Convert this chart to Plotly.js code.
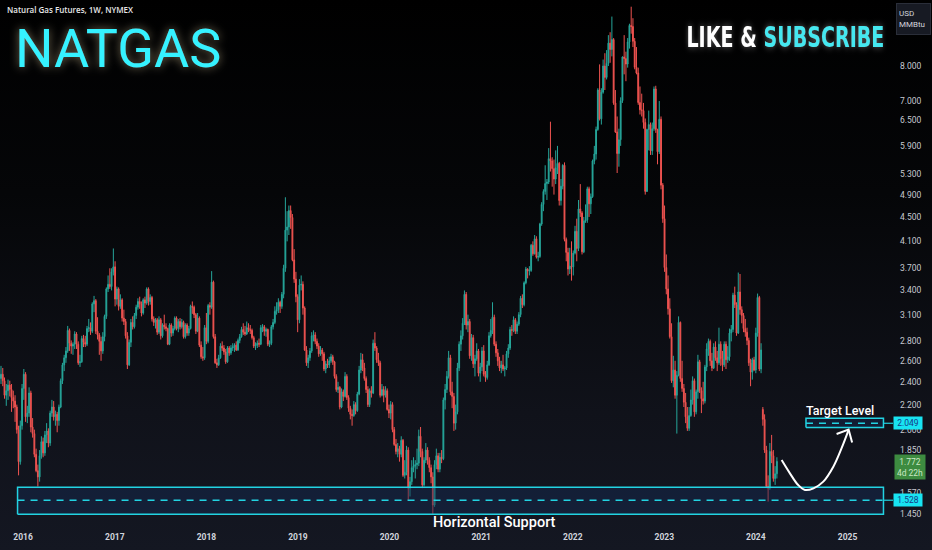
<!DOCTYPE html>
<html><head><meta charset="utf-8">
<script src="https://cdn.plot.ly/plotly-3.0.1.min.js"></script>
<style>
html,body{margin:0;padding:0;background:#000;}
#chart{width:932px;height:550px;background:linear-gradient(to bottom,#000000 0%,#050608 35%,#10121a 75%,#141722 100%);}
</style></head><body>
<svg width="0" height="0" style="position:absolute">
 <defs>
  <filter id="glowWarm" x="-30%" y="-60%" width="160%" height="220%">
   <feGaussianBlur in="SourceAlpha" stdDeviation="5" result="blur"/>
   <feFlood flood-color="#c9b98e" flood-opacity="0.6"/>
   <feComposite in2="blur" operator="in" result="glow"/>
   <feMerge><feMergeNode in="glow"/><feMergeNode in="SourceGraphic"/></feMerge>
  </filter>
  <filter id="glowWhite" x="-20%" y="-60%" width="140%" height="220%">
   <feGaussianBlur in="SourceAlpha" stdDeviation="3.5" result="blur"/>
   <feFlood flood-color="#ffffff" flood-opacity="0.35"/>
   <feComposite in2="blur" operator="in" result="glow"/>
   <feMerge><feMergeNode in="glow"/><feMergeNode in="SourceGraphic"/></feMerge>
  </filter>
 </defs>
</svg>
<div id="chart"></div>
<script>
const firstWeek = '2015-10-05';

const opens = [
2.43,2.47,2.41,2.28,2.32,2.37,2.33,2.26,2.23,2.18,2.00,1.77,2.03,
2.34,2.47,2.10,2.13,2.30,2.02,1.97,1.82,1.71,1.67,1.81,1.91,1.83,
1.96,1.99,1.90,2.13,2.18,2.10,2.12,2.07,2.18,2.41,2.56,2.63,2.70,
2.92,2.78,2.75,2.77,2.88,2.77,2.58,2.59,2.83,2.79,2.77,2.94,2.95,
2.91,3.23,3.27,2.91,2.87,2.80,2.70,2.85,3.08,3.42,3.48,3.45,3.65,
3.72,3.29,3.42,3.20,3.28,3.06,3.02,2.86,2.56,2.79,3.01,2.96,3.09,
3.19,3.26,3.23,3.12,3.28,3.24,3.42,3.26,3.31,3.05,3.01,3.04,2.90,
3.04,2.86,2.98,2.96,2.94,2.77,2.98,2.89,2.94,3.06,2.94,3.02,2.96,
3.01,2.85,2.98,2.89,2.94,3.20,3.19,3.10,2.91,3.06,2.76,2.64,2.63,
2.95,2.80,3.21,3.19,3.51,2.85,2.58,2.56,2.63,2.75,2.73,2.69,2.59,
2.73,2.68,2.73,2.74,2.76,2.71,2.81,2.85,2.93,2.90,2.88,2.95,2.93,
2.92,2.84,2.75,2.76,2.78,2.77,2.95,2.96,2.91,2.93,2.77,2.78,2.96,
3.01,3.14,3.16,3.25,3.20,3.35,3.70,4.28,4.33,4.61,4.49,3.82,3.55,
3.32,
3.04,3.47,3.48,3.18,2.71,2.58,2.63,2.70,2.86,2.87,2.80,2.75,2.67,
2.71,2.67,2.52,2.57,2.56,2.60,2.64,2.59,2.45,2.33,2.35,2.18,2.31,
2.27,2.45,2.26,2.17,2.12,2.11,2.20,2.15,2.29,2.51,2.61,2.53,2.43,
2.33,2.20,2.32,2.30,2.78,2.73,2.61,2.58,2.28,2.33,2.28,2.32,2.16,
2.13,2.20,2.00,1.89,1.84,1.86,1.82,1.92,1.68,1.70,1.85,1.60,1.64,
1.73,1.74,1.75,1.76,1.95,1.84,1.62,1.78,1.85,1.78,1.73,1.67,1.50,
1.75,1.81,1.72,1.80,1.79,2.24,2.33,2.45,2.63,2.31,2.27,2.05,2.14,
2.53,2.77,2.86,3.00,3.35,2.98,3.02,2.65,2.84,2.57,2.62,2.70,2.48,
2.54,2.70,2.47,2.44,2.56,2.86,2.92,3.07,2.77,2.68,2.60,2.53,2.56,
2.52,2.53,2.67,2.73,2.93,2.92,3.04,2.91,2.99,3.10,3.30,3.22,3.50,
3.69,3.66,3.67,4.04,3.91,4.14,3.86,3.87,4.38,4.72,4.96,5.11,5.14,
5.62,5.57,5.41,5.20,5.43,5.52,4.79,5.06,5.48,4.13,3.93,3.69,3.73,
3.72,3.92,4.26,3.99,4.64,4.57,3.94,4.43,4.45,5.01,4.73,4.86,5.57,
5.72,6.28,7.30,6.54,7.24,8.00,7.66,8.08,8.73,8.52,8.85,6.95,6.22,
5.73,6.04,7.01,8.28,8.23,8.06,8.77,9.34,9.30,8.79,7.96,7.79,6.96,
6.77,6.75,6.45,4.96,6.28,6.40,5.79,6.30,7.33,6.28,5.77,6.53,5.08,
4.47,3.71,3.42,3.17,2.85,2.41,2.51,2.28,2.46,3.01,2.43,2.34,2.22,
2.10,2.01,2.11,2.24,2.41,2.14,2.31,2.59,2.32,2.25,2.23,2.54,2.72,
2.80,2.60,2.53,2.74,2.63,2.58,2.77,2.62,2.56,2.77,2.61,2.64,2.89,
2.93,3.34,3.22,2.89,3.38,3.16,3.09,2.94,2.90,2.81,2.58,2.49,2.61,
2.51,2.89,3.31,2.52,2.16,2.08,1.85,1.61,1.60,1.84,1.81,1.66,1.69
];

const highs = [
2.55,2.53,2.44,2.38,2.42,2.41,2.38,2.32,2.28,2.20,2.03,2.07,2.38,
2.52,2.49,2.19,2.35,2.32,2.09,2.00,1.86,1.75,1.85,1.95,1.94,1.99,
2.05,2.01,2.15,2.24,2.23,2.15,2.14,2.20,2.43,2.58,2.66,2.74,2.97,
2.94,2.81,2.79,2.91,2.90,2.80,2.66,2.86,2.87,2.86,2.97,3.05,3.01,
3.25,3.33,3.29,3.07,2.89,2.85,2.90,3.10,3.44,3.60,3.70,3.70,3.99,
3.80,3.45,3.44,3.35,3.30,3.16,3.05,2.90,2.82,3.05,3.08,3.12,3.22,
3.30,3.32,3.26,3.30,3.32,3.44,3.44,3.35,3.33,3.08,3.06,3.06,3.08,
3.06,3.00,3.10,3.00,2.95,3.00,3.00,2.97,3.08,3.08,3.05,3.06,3.05,
3.03,3.00,3.00,2.97,3.22,3.26,3.21,3.12,3.12,3.08,2.80,2.74,2.98,
3.12,3.23,3.25,3.66,3.53,2.88,2.62,2.66,2.78,2.80,2.76,2.72,2.75,
2.75,2.76,2.78,2.78,2.80,2.83,2.88,2.96,3.00,2.97,3.02,3.00,2.98,
2.94,2.86,2.79,2.81,2.83,2.98,2.99,2.98,2.95,2.94,2.81,2.98,3.05,
3.20,3.25,3.30,3.27,3.38,3.75,4.85,4.60,4.70,4.70,4.55,3.98,3.65,
3.35,
3.55,3.60,3.52,3.20,2.75,2.66,2.73,2.90,2.92,2.90,2.83,2.78,2.75,
2.73,2.69,2.60,2.62,2.64,2.67,2.66,2.60,2.47,2.40,2.36,2.34,2.33,
2.49,2.47,2.28,2.19,2.16,2.23,2.22,2.31,2.55,2.68,2.67,2.58,2.45,
2.36,2.34,2.36,2.82,2.90,2.75,2.68,2.60,2.38,2.36,2.36,2.34,2.20,
2.23,2.22,2.02,1.93,1.90,1.88,1.95,1.93,1.78,1.88,1.87,1.67,1.78,
1.80,1.78,1.86,2.00,2.02,1.86,1.80,1.90,1.87,1.80,1.75,1.70,1.78,
1.86,1.83,1.83,1.85,2.26,2.38,2.50,2.70,2.66,2.40,2.30,2.20,2.58,
2.80,2.92,3.06,3.40,3.38,3.10,3.05,2.88,2.87,2.66,2.78,2.72,2.58,
2.74,2.76,2.50,2.60,2.90,3.05,3.25,3.10,2.80,2.72,2.64,2.60,2.66,
2.55,2.70,2.77,2.96,2.98,3.08,3.06,3.02,3.13,3.33,3.35,3.52,3.72,
3.70,3.73,4.06,4.10,4.20,4.18,3.94,4.40,4.76,5.00,5.48,5.20,5.85,
6.47,5.65,5.60,5.80,5.90,5.55,5.20,5.50,5.54,4.16,4.00,4.00,4.10,
3.96,4.35,4.47,4.80,5.10,4.60,4.50,4.72,5.05,5.05,4.92,5.60,5.90,
6.35,7.35,8.05,7.35,8.20,8.40,8.50,9.00,9.10,9.66,8.90,7.30,6.60,
6.30,7.10,8.30,9.00,8.45,8.90,9.40,10.03,9.60,8.90,8.60,7.95,7.40,
7.20,6.95,6.55,6.30,6.75,6.45,6.45,7.40,7.42,6.30,7.00,6.60,5.12,
4.70,3.90,3.60,3.30,3.00,2.65,2.60,2.50,3.08,3.02,2.60,2.38,2.30,
2.18,2.18,2.33,2.45,2.43,2.33,2.66,2.61,2.35,2.40,2.56,2.78,2.83,
2.82,2.68,2.78,2.80,2.70,2.95,2.80,2.70,2.80,2.80,2.75,2.94,2.98,
3.37,3.45,3.25,3.64,3.62,3.20,3.12,3.05,2.95,2.84,2.62,2.63,2.64,
2.95,3.36,3.33,2.78,2.18,2.12,1.88,1.68,1.90,1.96,1.85,1.74,1.80
];

const lows = [
2.38,2.36,2.25,2.19,2.24,2.27,2.14,2.17,2.06,1.97,1.68,1.75,2.00,
2.24,2.06,2.05,2.10,1.98,1.94,1.80,1.70,1.61,1.64,1.79,1.80,1.81,
1.90,1.87,1.88,2.10,2.07,2.03,1.98,2.03,2.17,2.38,2.50,2.58,2.68,
2.70,2.67,2.66,2.72,2.72,2.56,2.54,2.58,2.74,2.74,2.75,2.90,2.87,
2.89,3.13,2.88,2.82,2.66,2.60,2.67,2.80,3.05,3.38,3.42,3.40,3.60,
3.20,3.22,3.15,3.17,3.02,2.98,2.83,2.52,2.55,2.74,2.93,2.94,3.05,
3.16,3.17,3.08,3.10,3.18,3.22,3.21,3.22,3.02,2.97,2.94,2.87,2.88,
2.82,2.84,2.93,2.91,2.76,2.76,2.85,2.86,2.92,2.92,2.90,2.93,2.94,
2.83,2.83,2.86,2.86,2.93,3.11,3.06,2.88,2.90,2.74,2.62,2.60,2.61,
2.77,2.78,3.10,3.17,2.83,2.57,2.53,2.55,2.62,2.70,2.66,2.57,2.58,
2.65,2.66,2.70,2.69,2.70,2.70,2.78,2.84,2.87,2.86,2.87,2.90,2.88,
2.82,2.73,2.71,2.73,2.74,2.76,2.90,2.86,2.85,2.75,2.74,2.76,2.93,
2.99,3.10,3.12,3.12,3.17,3.30,3.65,4.10,4.20,4.30,3.80,3.50,3.25,
2.90,
3.00,3.40,3.10,2.70,2.55,2.53,2.60,2.68,2.80,2.77,2.72,2.64,2.65,
2.60,2.50,2.48,2.53,2.53,2.58,2.56,2.43,2.31,2.30,2.16,2.17,2.23,
2.26,2.24,2.14,2.08,2.03,2.10,2.12,2.14,2.28,2.48,2.50,2.41,2.30,
2.18,2.18,2.26,2.29,2.70,2.58,2.55,2.26,2.27,2.22,2.26,2.15,2.09,
2.08,1.98,1.88,1.82,1.80,1.77,1.80,1.67,1.66,1.68,1.53,1.55,1.62,
1.70,1.66,1.72,1.74,1.80,1.60,1.61,1.76,1.75,1.70,1.63,1.45,1.49,
1.72,1.70,1.70,1.76,1.78,2.16,2.30,2.43,2.28,2.17,1.99,2.00,2.12,
2.50,2.70,2.82,2.98,2.93,2.90,2.62,2.60,2.53,2.45,2.60,2.45,2.40,
2.50,2.45,2.40,2.42,2.55,2.84,2.88,2.75,2.64,2.55,2.50,2.48,2.50,
2.45,2.51,2.63,2.71,2.86,2.90,2.88,2.88,2.97,3.07,3.18,3.20,3.48,
3.56,3.60,3.65,3.88,3.90,3.84,3.80,3.85,4.35,4.60,4.90,4.80,5.10,
5.35,5.05,4.90,5.10,5.30,4.70,4.70,5.00,4.10,3.80,3.60,3.62,3.53,
3.60,3.90,3.80,3.95,4.50,3.90,3.92,4.40,4.40,4.50,4.55,4.84,5.50,
5.60,6.25,6.50,6.40,7.20,7.30,7.60,8.00,8.10,8.30,6.90,6.20,5.32,
5.45,5.90,6.95,7.75,7.55,7.95,8.55,9.05,8.60,7.90,7.75,6.90,6.65,
6.60,6.30,4.90,4.95,5.80,5.70,5.70,6.25,6.20,5.50,5.72,5.00,4.40,
3.65,3.35,3.10,2.83,2.39,2.35,2.25,1.97,2.45,2.40,2.31,2.18,2.05,
1.99,1.99,2.10,2.20,2.10,2.12,2.25,2.30,2.13,2.20,2.21,2.50,2.65,
2.55,2.50,2.52,2.60,2.50,2.56,2.55,2.50,2.54,2.52,2.58,2.60,2.80,
2.90,3.18,2.86,2.88,3.10,3.00,2.90,2.85,2.76,2.55,2.36,2.42,2.50,
2.48,2.85,2.50,2.48,2.03,1.83,1.60,1.52,1.59,1.76,1.64,1.62,1.66
];

const closes = [
2.47,2.41,2.28,2.32,2.37,2.33,2.26,2.23,2.18,2.00,1.77,2.03,2.34,
2.47,2.10,2.13,2.30,2.02,1.97,1.82,1.71,1.67,1.81,1.91,1.83,1.96,
1.99,1.90,2.13,2.18,2.10,2.12,2.07,2.18,2.41,2.56,2.63,2.70,2.92,
2.78,2.75,2.77,2.88,2.77,2.58,2.59,2.83,2.79,2.77,2.94,2.95,2.91,
3.23,3.27,2.91,2.87,2.80,2.70,2.85,3.08,3.42,3.48,3.45,3.65,3.72,
3.29,3.42,3.20,3.28,3.06,3.02,2.86,2.56,2.79,3.01,2.96,3.09,3.19,
3.26,3.23,3.12,3.28,3.24,3.42,3.26,3.31,3.05,3.01,3.04,2.90,3.04,
2.86,2.98,2.96,2.94,2.77,2.98,2.89,2.94,3.06,2.94,3.02,2.96,3.01,
2.85,2.98,2.89,2.94,3.20,3.19,3.10,2.91,3.06,2.76,2.64,2.63,2.95,
2.80,3.21,3.19,3.51,2.85,2.58,2.56,2.63,2.75,2.73,2.69,2.59,2.73,
2.68,2.73,2.74,2.76,2.71,2.81,2.85,2.93,2.90,2.88,2.95,2.93,2.92,
2.84,2.75,2.76,2.78,2.77,2.95,2.96,2.91,2.93,2.77,2.78,2.96,3.01,
3.14,3.16,3.25,3.20,3.35,3.70,4.28,4.33,4.61,4.49,3.82,3.55,3.32,
3.04,
3.47,3.48,3.18,2.71,2.58,2.63,2.70,2.86,2.87,2.80,2.75,2.67,2.71,
2.67,2.52,2.57,2.56,2.60,2.64,2.59,2.45,2.33,2.35,2.18,2.31,2.27,
2.45,2.26,2.17,2.12,2.11,2.20,2.15,2.29,2.51,2.61,2.53,2.43,2.33,
2.20,2.32,2.30,2.78,2.73,2.61,2.58,2.28,2.33,2.28,2.32,2.16,2.13,
2.20,2.00,1.89,1.84,1.86,1.82,1.92,1.68,1.70,1.85,1.60,1.64,1.73,
1.74,1.75,1.76,1.95,1.84,1.62,1.78,1.85,1.78,1.73,1.67,1.50,1.75,
1.81,1.72,1.80,1.79,2.24,2.33,2.45,2.63,2.31,2.27,2.05,2.14,2.53,
2.77,2.86,3.00,3.35,2.98,3.02,2.65,2.84,2.57,2.62,2.70,2.48,2.54,
2.70,2.47,2.44,2.56,2.86,2.92,3.07,2.77,2.68,2.60,2.53,2.56,2.52,
2.53,2.67,2.73,2.93,2.92,3.04,2.91,2.99,3.10,3.30,3.22,3.50,3.69,
3.66,3.67,4.04,3.91,4.14,3.86,3.87,4.38,4.72,4.96,5.11,5.14,5.62,
5.57,5.41,5.20,5.43,5.52,4.79,5.06,5.48,4.13,3.93,3.69,3.73,3.72,
3.92,4.26,3.99,4.64,4.57,3.94,4.43,4.45,5.01,4.73,4.86,5.57,5.72,
6.28,7.30,6.54,7.24,8.00,7.66,8.08,8.73,8.52,8.85,6.95,6.22,5.73,
6.04,7.01,8.28,8.23,8.06,8.77,9.34,9.30,8.79,7.96,7.79,6.96,6.77,
6.75,6.45,4.96,6.28,6.40,5.79,6.30,7.33,6.28,5.77,6.53,5.08,4.47,
3.71,3.42,3.17,2.85,2.41,2.51,2.28,2.46,3.01,2.43,2.34,2.22,2.10,
2.01,2.11,2.24,2.41,2.14,2.31,2.59,2.32,2.25,2.23,2.54,2.72,2.80,
2.60,2.53,2.74,2.63,2.58,2.77,2.62,2.56,2.77,2.61,2.64,2.89,2.93,
3.34,3.22,2.89,3.38,3.16,3.09,2.94,2.90,2.81,2.58,2.49,2.61,2.51,
2.89,3.31,2.52,2.71,2.08,1.85,1.61,1.60,1.84,1.81,1.66,1.69,1.772
];

const yearTicks  = ['2016-01-01','2017-01-01','2018-01-01','2019-01-01','2020-01-01','2021-01-01','2022-01-01','2023-01-01','2024-01-01','2025-01-01'];
const yearLabels = ['2016','2017','2018','2019','2020','2021','2022','2023','2024','2025'];
const priceTicks = [1.45,1.57,1.85,2.0,2.2,2.4,2.6,2.8,3.1,3.4,3.7,4.1,4.5,4.9,5.3,5.9,6.5,7.0,8.0];

const supportLevel = 1.528, supportTop = 1.606, supportBottom = 1.449;
const supportStart = '2015-12-10', boxEnd = '2025-05-24', axisEnd = '2025-07-01';
const targetLevel = 2.049, targetTop = 2.089, targetBottom = 2.016, targetStart = '2024-07-19';
const lastPrice = 1.772, countdown = '4d 22h';

const arrowDates  = ['2024-04-13','2024-05-16','2024-06-18','2024-07-15','2024-08-18','2024-09-26','2024-11-05','2024-12-08','2025-01-04'];
const arrowPrices = [1.781,1.693,1.619,1.589,1.599,1.640,1.736,1.863,1.992];
const headDates  = ['2024-11-18','2025-01-05','2025-01-19'];
const headPrices = [1.967,2.001,1.904];

function weekDates(start, n) {
  const d0 = new Date(start + 'T00:00:00Z'), out = [];
  for (let i = 0; i < n; i++) out.push(new Date(d0.getTime() + i * 7 * 864e5).toISOString().slice(0, 10));
  return out;
}
const dates = weekDates(firstWeek, closes.length);

const CYAN = '#22d3e2';
const PW = 893, PH = 530;
const px = v => v / PW, py = v => 1 - v / PH;

const traces = [
  {type:'candlestick', x:dates, open:opens, high:highs, low:lows, close:closes,
   increasing:{line:{color:'#26a69a', width:1}, fillcolor:'#26a69a'},
   decreasing:{line:{color:'#ef5350', width:1}, fillcolor:'#ef5350'},
   whiskerwidth:0, hoverinfo:'skip', showlegend:false},
  {type:'scatter', mode:'lines', x:[supportStart,boxEnd,boxEnd,supportStart,supportStart],
   y:[supportBottom,supportBottom,supportTop,supportTop,supportBottom], fill:'toself',
   fillcolor:'rgba(22,45,85,0.45)', line:{color:CYAN, width:1.5}, hoverinfo:'skip'},
  {type:'scatter', mode:'lines', x:[supportStart,boxEnd], y:[supportLevel,supportLevel],
   line:{color:CYAN, width:1.6, dash:'7px,6px'}, hoverinfo:'skip'},
  {type:'scatter', mode:'lines', x:[boxEnd,axisEnd], y:[supportLevel,supportLevel],
   line:{color:CYAN, width:1.2}, hoverinfo:'skip'},
  {type:'scatter', mode:'lines', x:[targetStart,boxEnd,boxEnd,targetStart,targetStart],
   y:[targetBottom,targetBottom,targetTop,targetTop,targetBottom], fill:'toself',
   fillcolor:'rgba(22,45,85,0.45)', line:{color:CYAN, width:1.5}, hoverinfo:'skip'},
  {type:'scatter', mode:'lines', x:[targetStart,boxEnd], y:[targetLevel,targetLevel],
   line:{color:CYAN, width:1.6, dash:'7px,6px'}, hoverinfo:'skip'},
  {type:'scatter', mode:'lines', x:[boxEnd,axisEnd], y:[targetLevel,targetLevel],
   line:{color:CYAN, width:1.2}, hoverinfo:'skip'},
  {type:'scatter', mode:'lines', x:arrowDates, y:arrowPrices,
   line:{color:'#ffffff', width:2, shape:'spline', smoothing:1}, hoverinfo:'skip'},
  {type:'scatter', mode:'lines', x:headDates, y:headPrices,
   line:{color:'#ffffff', width:2}, hoverinfo:'skip'}
];

const labelX = 908.5 / PW;
const layout = {
  width:932, height:550,
  margin:{l:0, r:39, t:0, b:20},
  paper_bgcolor:'rgba(0,0,0,0)', plot_bgcolor:'rgba(0,0,0,0)',
  showlegend:false,
  xaxis:{type:'date', range:['2015-10-01', axisEnd], rangeslider:{visible:false},
         tickmode:'array', tickvals:yearTicks, ticktext:yearLabels,
         tickfont:{family:'Roboto', size:8.5, color:'#d1d4dc', weight:'bold'},
         showgrid:false, zeroline:false, showline:false, ticks:'', fixedrange:true},
  yaxis:{type:'log', side:'right', range:[Math.log10(1.364), Math.log10(10.29)],
         tickmode:'array', tickvals:priceTicks, ticktext:priceTicks.map(v => v.toFixed(3)),
         tickfont:{family:'Roboto', size:8.5, color:'#c7cad1'},
         showgrid:false, zeroline:false, showline:false, ticks:'', ticklabelstandoff:6, fixedrange:true},
  annotations:[
    {xref:'paper', yref:'paper', x:px(5), y:py(10), xanchor:'left', yanchor:'middle', showarrow:false,
     text:'Natural Gas Futures, 1W, NYMEX', font:{family:'Open Sans', size:8, color:'#e8e8e8', weight:600}},
    {xref:'paper', yref:'paper', x:px(118), y:py(49), xanchor:'center', yanchor:'middle', showarrow:false,
     text:'NATGAS', font:{family:'Roboto', size:54, color:'#35f2ff'}},
    {xref:'paper', yref:'paper', x:px(785), y:py(37), xanchor:'center', yanchor:'middle', showarrow:false,
     text:'LIKE &amp; <span style="color:#45e8f0">SUBSCRIBE</span>',
     font:{family:'DejaVu Sans', size:29, color:'#ffffff', weight:'bold'}},
    {xref:'paper', yref:'paper', x:px(840), y:py(410.5), xanchor:'center', yanchor:'middle', showarrow:false,
     text:'Target Level', font:{family:'Roboto', size:12.5, color:'#ffffff', weight:500}},
    {xref:'paper', yref:'paper', x:px(495), y:py(522), xanchor:'center', yanchor:'middle', showarrow:false,
     text:'Horizontal Support', font:{family:'Roboto', size:14.5, color:'#ffffff', weight:500}},
    {xref:'paper', yref:'y', x:labelX, y:Math.log10(targetLevel), xanchor:'center', yanchor:'middle', showarrow:false,
     text:targetLevel.toFixed(3), bgcolor:'#18e4f2', borderpad:1, width:26,
     font:{family:'Roboto', size:8.5, color:'#173a86'}},
    {xref:'paper', yref:'y', x:labelX, y:Math.log10(supportLevel), xanchor:'center', yanchor:'middle', showarrow:false,
     text:supportLevel.toFixed(3), bgcolor:'#18e4f2', borderpad:1, width:26,
     font:{family:'Roboto', size:8.5, color:'#173a86'}},
    {xref:'paper', yref:'y', x:labelX + 1.5/PW, y:Math.log10(lastPrice), yshift:-5.5, xanchor:'center', yanchor:'middle', showarrow:false,
     text:lastPrice.toFixed(3) + '<br>' + countdown, bgcolor:'#3d8b40', borderpad:1.5, width:27,
     font:{family:'Roboto', size:8.5, color:'#c9e8c4'}},
    {xref:'paper', yref:'paper', x:px(913), y:py(18.5), xanchor:'center', yanchor:'middle', showarrow:false,
     text:'USD<br>MMBtu', align:'left', bgcolor:'#171a23', bordercolor:'#2a2e39', borderwidth:1, borderpad:2, width:29, height:26,
     font:{family:'Roboto', size:8, color:'#d1d4dc'}}
  ]
};

Plotly.newPlot('chart', traces, layout, {displayModeBar:false, staticPlot:true}).then(() => {
  const t1 = document.querySelector('g.annotation[data-index="1"] text');
  if (t1) t1.setAttribute('filter', 'url(#glowWarm)');
  const t2 = document.querySelector('g.annotation[data-index="2"] text');
  if (t2) {
    const bb = t2.getBBox();
    const s = 198 / bb.width;
    const cx = bb.x + bb.width / 2;
    const prev = t2.getAttribute('transform') || '';
    t2.setAttribute('transform', prev + ' translate(' + cx + ',0) scale(' + s + ',1) translate(' + (-cx) + ',0)');
    t2.setAttribute('filter', 'url(#glowWhite)');
  }
});
</script>
</body></html>
